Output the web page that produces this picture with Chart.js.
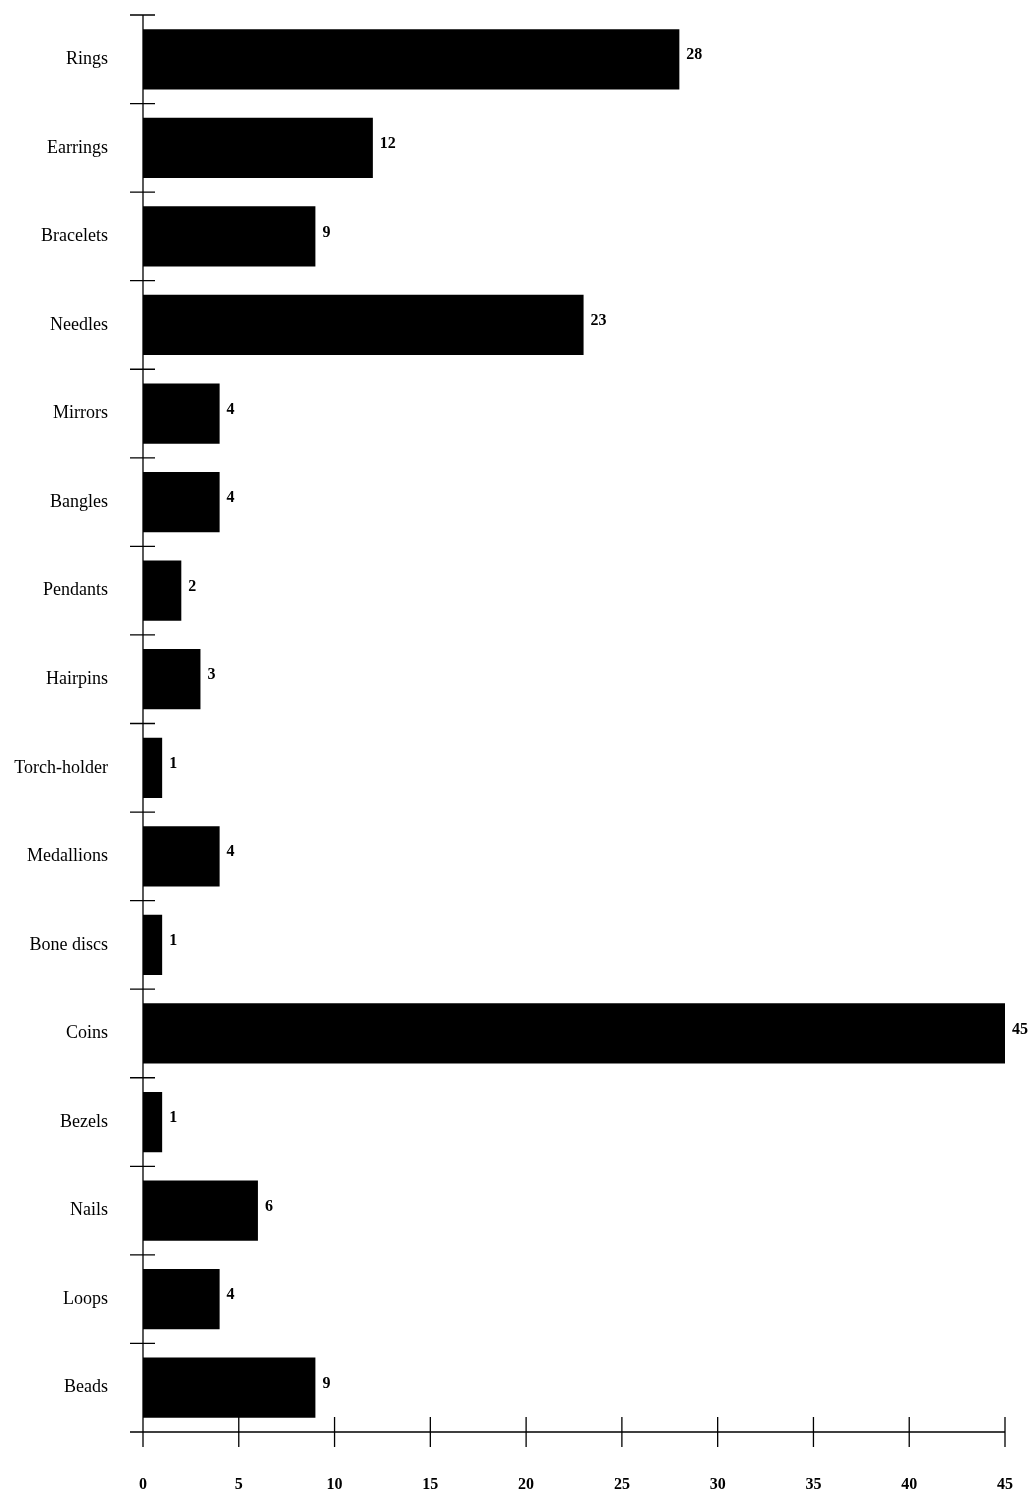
<!DOCTYPE html>
<html>
<head>
<meta charset="utf-8">
<script src="https://cdn.jsdelivr.net/npm/chart.js@4.4.1/dist/chart.umd.min.js"></script>
<style>
  html, body { margin: 0; padding: 0; background: #fff; }
  canvas { display: block; }
</style>
</head>
<body>
<canvas id="finds" width="1035" height="1490"></canvas>
<script>
    const categories = ['Rings', 'Earrings', 'Bracelets', 'Needles', 'Mirrors', 'Bangles', 'Pendants', 'Hairpins',
      'Torch-holder', 'Medallions', 'Bone discs', 'Coins', 'Bezels', 'Nails', 'Loops', 'Beads'];
    const counts = [28, 12, 9, 23, 4, 4, 2, 3, 1, 4, 1, 45, 1, 6, 4, 9];
    const xTicks = [0, 5, 10, 15, 20, 25, 30, 35, 40, 45];

    const ctx = document.getElementById('finds').getContext('2d');

    // axis lines with tick marks that cross the axis, like the scanned original
    const crossAxes = {
      id: 'crossAxes',
      afterDraw(chart) {
        const c = chart.ctx;
        const x = chart.scales.x;
        const y = chart.scales.y;
        const left = x.getPixelForValue(0);
        const bottom = y.bottom;
        c.save();
        c.strokeStyle = '#000';
        c.lineWidth = 1.3;
        c.beginPath();
        c.moveTo(left, y.top);
        c.lineTo(left, bottom + 14);
        c.moveTo(left - 13, bottom);
        c.lineTo(x.right, bottom);
        // x ticks
        xTicks.forEach(v => {
          const px = x.getPixelForValue(v);
          c.moveTo(px, bottom - 15);
          c.lineTo(px, bottom + 15);
        });
        // y ticks at category boundaries
        const step = (y.bottom - y.top) / categories.length;
        for (let i = 0; i < categories.length; i++) {
          const py = y.getPixelForValue(i) - step / 2;
          c.moveTo(left - 13, py);
          c.lineTo(left + 12, py);
        }
        c.stroke();
        c.restore();
      }
    };

    const valueLabels = {
      id: 'valueLabels',
      afterDatasetsDraw(chart) {
        const c = chart.ctx;
        const meta = chart.getDatasetMeta(0);
        c.save();
        c.fillStyle = '#000';
        c.font = 'bold 16px "Liberation Serif"';
        c.textAlign = 'left';
        c.textBaseline = 'middle';
        meta.data.forEach((bar, i) => {
          c.fillText(String(counts[i]), bar.x + 7, bar.y - 4);
        });
        c.restore();
      }
    };

    new Chart(ctx, {
      type: 'bar',
      data: {
        labels: categories,
        datasets: [{
          data: counts,
          backgroundColor: '#000',
          borderWidth: 0,
          barPercentage: 0.68,
          categoryPercentage: 1
        }]
      },
      options: {
        indexAxis: 'y',
        responsive: false,
        animation: false,
        layout: { padding: { top: 15, right: 30, left: 0, bottom: 0 } },
        plugins: {
          legend: { display: false },
          tooltip: { enabled: false }
        },
        scales: {
          x: {
            min: 0,
            max: 45,
            afterFit: s => { s.height = 58; s.paddingLeft = 0; s.paddingRight = 0; },
            afterBuildTicks: s => { s.ticks = xTicks.map(v => ({ value: v })); },
            grid: { display: false, drawTicks: false },
            border: { display: false },
            ticks: {
              color: '#000',
              padding: 43,
              maxRotation: 0,
              font: { family: '"Liberation Serif"', size: 16, weight: 'bold' }
            }
          },
          y: {
            afterFit: s => { s.width = 143; s.paddingTop = 0; s.paddingBottom = 0; },
            grid: { display: false, drawTicks: false },
            border: { display: false },
            ticks: {
              color: '#000',
              padding: 35,
              font: { family: '"Liberation Serif"', size: 18 }
            }
          }
        }
      },
      plugins: [crossAxes, valueLabels]
    });
</script>
</body>
</html>
